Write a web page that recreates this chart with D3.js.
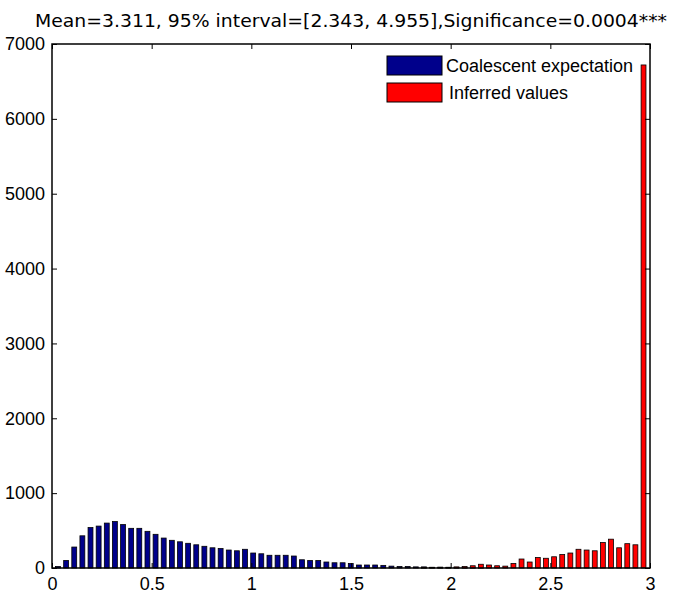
<!DOCTYPE html>
<html><head><meta charset="utf-8">
<script src="https://cdn.jsdelivr.net/npm/d3@7"></script>
<style>body{margin:0;background:#fff}svg{display:block}</style>
</head><body><svg id="c" width="678" height="596"></svg>
<script>
const titleText = "Mean=3.311, 95% interval=[2.343, 4.955],Significance=0.0004***";
const seriesNames = ["Coalescent expectation", "Inferred values"];
const seriesColors = ["#00008b", "#ff0000"];
const binStart = 0.03, binStep = 0.0408, binCount = 73;
const binCenters = d3.range(binCount).map(i => +(binStart + i * binStep).toFixed(4));
const coalescent = [20,100,280,430,540,560,600,620,580,530,530,490,450,400,370,350,330,310,290,270,260,240,230,250,200,190,170,170,170,160,110,100,100,80,70,70,60,40,40,40,35,25,20,20,15,15,10,10,8,5,3,2,2,0,0,0,0,0,0,0,0,0,0,0,0,0,0,0,0,0,0,0,0];
const inferred = [0,0,0,0,0,0,0,0,0,0,0,0,0,0,0,0,0,0,0,0,0,0,0,0,0,0,0,0,0,0,0,0,0,0,0,0,0,0,0,0,0,0,0,0,0,5,8,10,10,15,20,30,50,40,30,25,60,120,80,140,130,150,180,200,250,240,230,340,385,270,325,310,6720];
const xTicks = [0, 0.5, 1, 1.5, 2, 2.5, 3];
const yTicks = [0, 1000, 2000, 3000, 4000, 5000, 6000, 7000];

const W = 678, H = 596, m = {l: 52, r: 28, t: 44, b: 28};
const svg = d3.select("#c");
const x = d3.scaleLinear().domain([0, 3]).range([m.l, W - m.r]);
const y = d3.scaleLinear().domain([0, 7000]).range([H - m.b, m.t]);
const bw = (x(binStep) - x(0)) * 0.6;

const g = svg.append("g");
[coalescent, inferred].forEach((vals, s) => {
  g.append("g").selectAll("rect").data(vals.map((v, i) => ({v, c: binCenters[i]})))
    .join("rect")
    .attr("x", d => x(d.c) - bw / 2)
    .attr("width", bw)
    .attr("y", d => y(d.v))
    .attr("height", d => y(0) - y(d.v))
    .attr("fill", seriesColors[s])
    .attr("stroke", "#000")
    .attr("stroke-width", 0.8);
});

const font = "'Liberation Sans', Arial, sans-serif";
const xb = d3.axisBottom(x).tickValues(xTicks).tickFormat(d3.format("")).tickSizeInner(-5).tickSizeOuter(0).tickPadding(9);
const xt = d3.axisTop(x).tickValues(xTicks).tickFormat("").tickSizeInner(-5).tickSizeOuter(0);
const yl = d3.axisLeft(y).tickValues(yTicks).tickFormat(d3.format("")).tickSizeInner(-5).tickSizeOuter(0).tickPadding(7);
const yr = d3.axisRight(y).tickValues(yTicks).tickFormat("").tickSizeInner(-5).tickSizeOuter(0);
[[xb, `translate(0,${H - m.b})`], [xt, `translate(0,${m.t})`], [yl, `translate(${m.l},0)`], [yr, `translate(${W - m.r},0)`]].forEach(([a, t]) => {
  const gg = svg.append("g").attr("transform", t).call(a);
  gg.selectAll("text").attr("font-family", font).attr("font-size", 18).attr("fill", "#000");
  gg.selectAll("line").attr("stroke", "#000").attr("stroke-width", 1);
  gg.select(".domain").remove();
});
svg.append("rect").attr("x", m.l).attr("y", m.t).attr("width", W - m.l - m.r).attr("height", H - m.t - m.b)
  .attr("fill", "none").attr("stroke", "#000").attr("stroke-width", 1.5);

// legend
const leg = svg.append("g").attr("font-family", font).attr("font-size", 18);
seriesNames.forEach((n, i) => {
  const ly = 56 + i * 27;
  leg.append("rect").attr("x", 387).attr("y", ly).attr("width", 55).attr("height", 19)
    .attr("fill", seriesColors[i]).attr("stroke", "#000").attr("stroke-width", 1);
  leg.append("text").attr("x", 446 + (i ? 3 : 0)).attr("y", ly + 16).text(n);
});

svg.append("text").attr("x", 351).attr("y", 27).attr("text-anchor", "middle")
  .attr("font-family", "'DejaVu Sans', sans-serif").attr("font-size", 18)
  .attr("textLength", 632).attr("lengthAdjust", "spacingAndGlyphs").text(titleText);
</script></body></html>
